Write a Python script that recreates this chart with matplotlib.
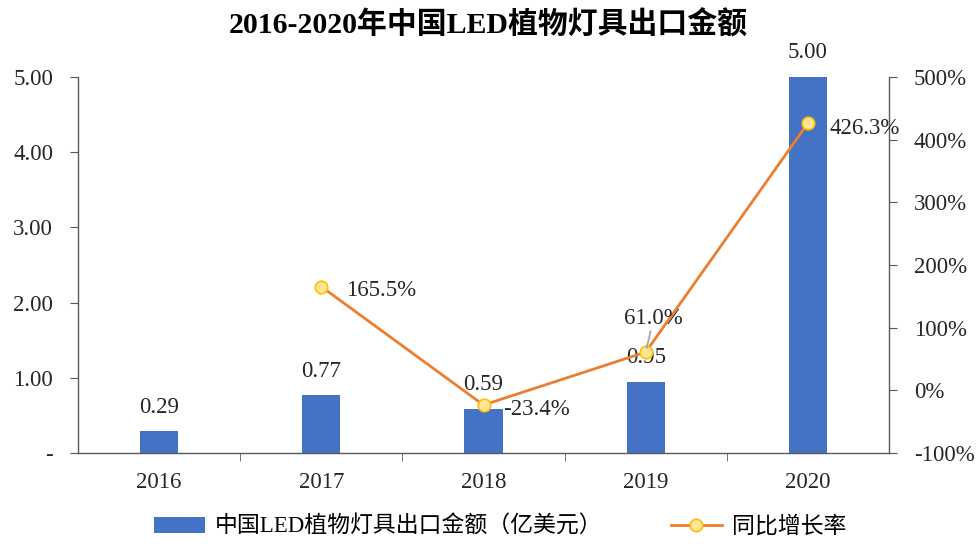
import matplotlib
matplotlib.use("Agg")
import matplotlib.pyplot as plt
from matplotlib.ticker import FixedLocator, FuncFormatter

plt.rcParams['font.family'] = ['Liberation Serif', 'Noto Sans CJK SC', 'DejaVu Sans']

years = ['2016', '2017', '2018', '2019', '2020']
export_value = [0.29, 0.77, 0.59, 0.95, 5.00]
growth_years_idx = [1, 2, 3, 4]
growth_rate = [165.5, -23.4, 61.0, 426.3]
bar_label = '中国LED植物灯具出口金额（亿美元）'
line_label = '同比增长率'
title = '2016-2020年中国LED植物灯具出口金额'

bar_color = '#4472C4'
line_color = '#ED7D31'
axis_color = '#595959'
text_color = '#262626'
fs = 16.5
PX = 0.72  # points per pixel at dpi 100

fig = plt.figure(figsize=(9.77, 5.44), dpi=100)
ax = fig.add_axes([78/977, 1-453/544, (889-78)/977, (453-77)/544])
ax2 = ax.twinx()

x = list(range(len(years)))
bars = ax.bar(x, export_value, width=0.235, color=bar_color, zorder=2, label=bar_label)
ax.set_xlim(-0.5, 4.5)
ax.set_ylim(0, 5)
ax2.set_ylim(-100, 500)

for xi, v in zip(x, export_value):
    ax.annotate(f'{v:.2f}', (xi, v), xytext=(0, 24*PX), textcoords='offset points',
                ha='center', va='center', fontsize=fs, color=text_color)

line, = ax2.plot(growth_years_idx, growth_rate, color=line_color, lw=2, marker='o',
                 markersize=9, markerfacecolor='#FFE699', markeredgecolor='#FFC000',
                 markeredgewidth=1.2, label=line_label, zorder=3)

# growth labels (pixel offsets)
offsets = {1: (25, -4), 2: (20, -5), 4: (22, -5)}
for xi, g in zip(growth_years_idx, growth_rate):
    if xi in offsets:
        dx, dy = offsets[xi]
        ax2.annotate(f'{g:.1f}%', (xi, g), xytext=(dx*PX, dy*PX), textcoords='offset points',
                     ha='left', va='center', fontsize=fs, color=text_color)
    else:
        ax2.annotate(f'{g:.1f}%', (xi, g), xytext=(8*PX, 34*PX), textcoords='offset points',
                     ha='center', va='center', fontsize=fs, color=text_color,
                     arrowprops=dict(arrowstyle='-', color='#A6A6A6', lw=1.3,
                                     shrinkA=0, shrinkB=3))

# axes styling
for a in (ax, ax2):
    a.spines['top'].set_visible(False)
    for s in ('left', 'right', 'bottom'):
        a.spines[s].set_color(axis_color)
        a.spines[s].set_linewidth(1.0)
ax.spines['right'].set_visible(False)
ax2.spines['left'].set_visible(False)
ax2.spines['bottom'].set_visible(False)

ax.set_yticks([0, 1, 2, 3, 4, 5])
ax.yaxis.set_major_formatter(FuncFormatter(lambda v, p: '-' if v == 0 else f'{v:.2f}'))
ax2.set_yticks([-100, 0, 100, 200, 300, 400, 500])
ax2.yaxis.set_major_formatter(FuncFormatter(lambda v, p: f'{v:.0f}%'))

ax.set_xticks(x)
ax.set_xticklabels(years)
ax.xaxis.set_minor_locator(FixedLocator([0.5, 1.5, 2.5, 3.5]))
ax.tick_params(axis='x', which='major', length=0, pad=14, labelsize=fs, labelcolor=text_color)
ax.tick_params(axis='x', which='minor', length=6, color=axis_color, direction='out')
ax.tick_params(axis='y', length=6, color=axis_color, direction='out', labelsize=fs,
               labelcolor=text_color, pad=12)
ax2.tick_params(axis='y', length=6, color=axis_color, direction='out', labelsize=fs,
                labelcolor=text_color, pad=12)

fig.text(0.5, 1-25/544, title, ha='center', va='center', fontsize=21.5, fontweight='bold',
         color='#000000')

handles = [bars, line]
fig.legend(handles, [bar_label, line_label], loc='center', bbox_to_anchor=(0.512, 1-527/544),
           ncol=2, frameon=False, handlelength=2.2, columnspacing=3.0, handletextpad=0.45,
           prop={'family': ['Liberation Serif', 'Noto Sans CJK SC'], 'size': fs})

fig.savefig('out.png', dpi=100)
